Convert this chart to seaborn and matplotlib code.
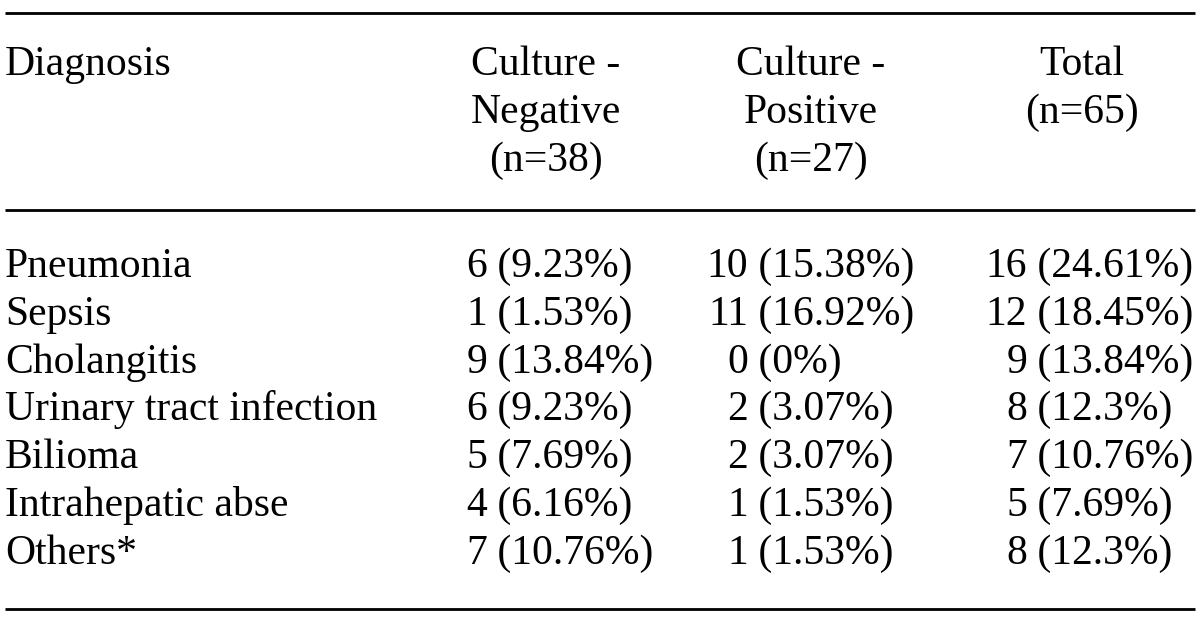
import matplotlib
matplotlib.use("Agg")
import matplotlib.pyplot as plt
import seaborn as sns

# table content
diagnoses = ["Pneumonia", "Sepsis", "Cholangitis", "Urinary tract infection",
             "Bilioma", "Intrahepatic abse", "Others*"]
neg_counts = [6, 1, 9, 6, 5, 4, 7]
neg_pcts = ["9.23", "1.53", "13.84", "9.23", "7.69", "6.16", "10.76"]
pos_counts = [10, 11, 0, 2, 2, 1, 1]
pos_pcts = ["15.38", "16.92", "0", "3.07", "3.07", "1.53", "1.53"]
tot_counts = [16, 12, 9, 8, 7, 5, 8]
tot_pcts = ["24.61", "18.45", "13.84", "12.3", "10.76", "7.69", "12.3"]
headers = ["Diagnosis", "Culture -\nNegative\n(n=38)", "Culture -\nPositive\n(n=27)", "Total\n(n=65)"]

sns.set_style("white")
plt.rcParams["font.family"] = ["Liberation Serif", "DejaVu Serif"]
plt.rcParams["text.color"] = "black"

W, H = 1200, 622
fig = plt.figure(figsize=(W / 100, H / 100), dpi=100)
ax = fig.add_axes([0, 0, 1, 1])
ax.set_xlim(0, W)
ax.set_ylim(H, 0)
ax.axis("off")

fs = 30.0
# rules
for y in [13, 210, 609]:
    ax.plot([5, 1195], [y, y], color="black", lw=2.0, solid_capstyle="butt")

# header
ax.text(5, 75, headers[0], fontsize=fs, ha="left", va="baseline")
head_x = [546, 811, 1082]
line_gap = 48
for hx, lab in zip(head_x, headers[1:]):
    for i, part in enumerate(lab.split("\n")):
        ax.text(hx, 75 + i * line_gap, part, fontsize=fs, ha="center", va="baseline")

# body
count_right = [487, 748, 1027]
row0, row_gap = 277, 47.8
cols = [(neg_counts, neg_pcts), (pos_counts, pos_pcts), (tot_counts, tot_pcts)]
for r, name in enumerate(diagnoses):
    y = row0 + r * row_gap
    ax.text(5, y, name, fontsize=fs, ha="left", va="baseline")
    for xr, (cnts, pcts) in zip(count_right, cols):
        ax.text(xr, y, str(cnts[r]), fontsize=fs, ha="right", va="baseline")
        ax.text(xr, y, " (" + pcts[r] + "%)", fontsize=fs, ha="left", va="baseline")

fig.savefig("out.png", dpi=100, facecolor="white")
